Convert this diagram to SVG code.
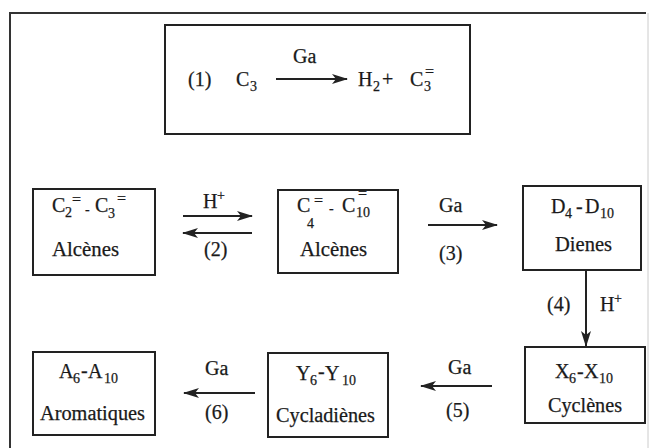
<svg xmlns="http://www.w3.org/2000/svg" width="654" height="448" viewBox="0 0 654 448">
<defs>
<style>
.bx{fill:#fff;stroke:#222;stroke-width:2}
.t{font-family:'Liberation Serif','DejaVu Serif',serif;font-size:20px;fill:#1a1a1a;stroke:#1a1a1a;stroke-width:0.25}
.s{font-size:14px}
.e{font-size:16px}
.ln{stroke:#222;stroke-width:2;fill:none}
</style>
<marker id="ah" viewBox="0 0 16 10" refX="15" refY="5" markerWidth="16" markerHeight="10" markerUnits="userSpaceOnUse" orient="auto">
<path d="M0,0 L16,5 L0,10 L4,5 Z" fill="#222"/>
</marker>
</defs>
<rect width="654" height="448" fill="#fff"/>
<path d="M10,470 L10,13 L646,13" fill="none" stroke="#333" stroke-width="2"/>
<path d="M648,13 L648,448" fill="none" stroke="#ccc" stroke-width="1"/>

<g id="reaction1">
<rect class="bx" x="165" y="25" width="305" height="109"/>
<text class="t"><tspan x="188" y="86">(1)</tspan><tspan x="236" y="86">C</tspan><tspan class="s" x="250" y="91">3</tspan><tspan x="293" y="63">Ga</tspan><tspan x="358" y="86">H</tspan><tspan class="s" x="373" y="91">2</tspan><tspan x="382" y="86">+</tspan><tspan x="410" y="86">C</tspan><tspan class="s" x="424" y="91">3</tspan><tspan class="e" x="425" y="77">=</tspan></text>
</g>

<g id="c2c3">
<rect class="bx" x="33" y="189" width="122" height="86"/>
<text class="t"><tspan x="52" y="212">C</tspan><tspan class="s" x="65" y="217">2</tspan><tspan class="e" x="72" y="205">=</tspan><tspan class="s" x="85" y="214">-</tspan><tspan x="95" y="212">C</tspan><tspan class="s" x="108" y="218">3</tspan><tspan class="e" x="117" y="204">=</tspan></text>
<text class="t" x="52" y="256" textLength="67" lengthAdjust="spacingAndGlyphs">Alcènes</text>
</g>

<g id="c4c10">
<rect class="bx" x="278" y="190" width="120" height="83"/>
<text class="t"><tspan x="297" y="212">C</tspan><tspan class="s" x="307" y="228">4</tspan><tspan class="e" x="314" y="206">=</tspan><tspan class="s" x="329" y="213">-</tspan><tspan x="342" y="212">C</tspan><tspan class="s" x="356" y="217">10</tspan><tspan class="e" x="358" y="199">=</tspan></text>
<text class="t" x="300" y="256" textLength="67" lengthAdjust="spacingAndGlyphs">Alcènes</text>
</g>

<g id="dienes">
<rect class="bx" x="523" y="186" width="118" height="84"/>
<text class="t"><tspan x="551" y="213">D</tspan><tspan class="s" x="565" y="218">4</tspan><tspan x="576" y="213">-</tspan><tspan x="585" y="213">D</tspan><tspan class="s" x="600" y="218">10</tspan></text>
<text class="t" x="555" y="251" textLength="57" lengthAdjust="spacingAndGlyphs">Dienes</text>
</g>

<g id="cyclenes">
<rect class="bx" x="525" y="347" width="120" height="76"/>
<text class="t"><tspan x="555" y="378">X</tspan><tspan class="s" x="569" y="383">6</tspan><tspan x="577" y="378">-</tspan><tspan x="584" y="378">X</tspan><tspan class="s" x="599" y="383">10</tspan></text>
<text class="t" x="548" y="412" textLength="74" lengthAdjust="spacingAndGlyphs">Cyclènes</text>
</g>

<g id="cycladienes">
<rect class="bx" x="268" y="353" width="120" height="84"/>
<text class="t"><tspan x="296" y="380">Y</tspan><tspan class="s" x="310" y="385">6</tspan><tspan x="318" y="378">-</tspan><tspan x="325" y="380">Y</tspan><tspan class="s" x="342" y="385">10</tspan></text>
<text class="t" x="276" y="422" textLength="99" lengthAdjust="spacingAndGlyphs">Cycladiènes</text>
</g>

<g id="aromatiques">
<rect class="bx" x="33" y="352" width="122" height="83"/>
<text class="t"><tspan x="59" y="378">A</tspan><tspan class="s" x="73" y="383">6</tspan><tspan x="81" y="377">-</tspan><tspan x="88" y="378">A</tspan><tspan class="s" x="104" y="383">10</tspan></text>
<text class="t" x="40" y="420" textLength="105" lengthAdjust="spacingAndGlyphs">Aromatiques</text>
</g>

<g id="connectors">
<line class="ln" x1="276" y1="79" x2="347" y2="79" marker-end="url(#ah)"/>
<line class="ln" x1="183" y1="216" x2="252" y2="216" marker-end="url(#ah)"/>
<line class="ln" x1="252" y1="233" x2="183" y2="233" marker-end="url(#ah)"/>
<line class="ln" x1="428" y1="225" x2="497" y2="225" marker-end="url(#ah)"/>
<line class="ln" x1="586" y1="270" x2="586" y2="346" marker-end="url(#ah)"/>
<line class="ln" x1="492" y1="386" x2="421" y2="386" marker-end="url(#ah)"/>
<line class="ln" x1="255" y1="393" x2="184" y2="393" marker-end="url(#ah)"/>
<text class="t"><tspan x="203" y="208">H</tspan><tspan class="s" x="217" y="200">+</tspan></text>
<text class="t" x="204" y="256">(2)</text>
<text class="t" x="439" y="212">Ga</text>
<text class="t" x="439" y="260">(3)</text>
<text class="t" x="547" y="311">(4)</text>
<text class="t"><tspan x="600" y="311">H</tspan><tspan class="s" x="614" y="303">+</tspan></text>
<text class="t" x="448" y="374">Ga</text>
<text class="t" x="446" y="417">(5)</text>
<text class="t" x="205" y="375">Ga</text>
<text class="t" x="205" y="419">(6)</text>
</g>
</svg>
